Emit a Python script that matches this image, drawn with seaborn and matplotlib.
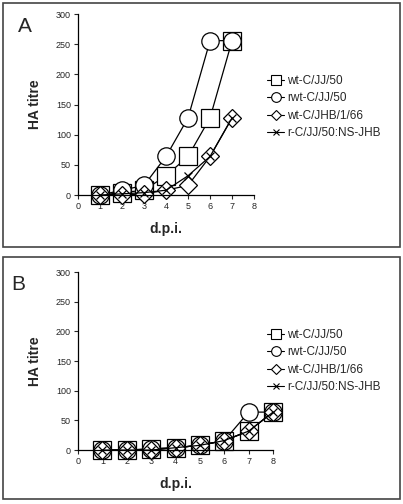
import pandas as pd
import matplotlib.pyplot as plt
import seaborn as sns
from matplotlib.lines import Line2D
from matplotlib.patches import Rectangle

sns.set_style("white")
plt.rcParams['font.family'] = ['Liberation Sans', 'DejaVu Sans']

# Data (HA titre by days post infection)
series_names = ['wt-C/JJ/50', 'rwt-C/JJ/50', 'wt-C/JHB/1/66', 'r-C/JJ/50:NS-JHB']
markers = ['s', 'o', 'D', 'x']
marker_sizes = [12.5, 12.5, 9.5, 6]
legend_sizes = [7, 7, 5.5, 5]

days_a = [1, 2, 3, 4, 5, 6, 7]
wt_jj_a = [0, 4, 8, 32, 64, 128, 256]
rwt_jj_a = [0, 8, 16, 64, 128, 256, 256]
wt_jhb_a = [0, 0, 2, 8, 16, 64, 128]
r_ns_jhb_a = [0, 2, 4, 8, 32, 64, 128]

days_b = [1, 2, 3, 4, 5, 6, 7, 8]
wt_jj_b = [0, 0, 2, 4, 8, 16, 32, 64]
rwt_jj_b = [0, 0, 2, 4, 8, 16, 64, 64]
wt_jhb_b = [0, 0, 0, 4, 8, 16, 32, 64]
r_ns_jhb_b = [0, 0, 0, 4, 8, 16, 32, 64]

x_ticks = [0, 1, 2, 3, 4, 5, 6, 7, 8]
y_ticks = [0, 50, 100, 150, 200, 250, 300]


def long_table(days, values):
    rows = []
    for name, vals in zip(series_names, values):
        for d, v in zip(days, vals):
            rows.append({'dpi': d, 'titre': v, 'strain': name})
    return pd.DataFrame(rows)


df_a = long_table(days_a, [wt_jj_a, rwt_jj_a, wt_jhb_a, r_ns_jhb_a])
df_b = long_table(days_b, [wt_jj_b, rwt_jj_b, wt_jhb_b, r_ns_jhb_b])

fig = plt.figure(figsize=(4.03, 5.04), dpi=100)

# panel frames
fig.patches.append(Rectangle((3 / 403, 1 - 247 / 504), 397 / 403, 244 / 504,
                             transform=fig.transFigure, fill=False, edgecolor='#444444', lw=1.2))
fig.patches.append(Rectangle((3 / 403, 1 - 499 / 504), 397 / 403, 242 / 504,
                             transform=fig.transFigure, fill=False, edgecolor='#444444', lw=1.2))

ax_a = fig.add_axes([0.1935, 0.613, 0.437, 0.359])
ax_b = fig.add_axes([0.1935, 0.107, 0.484, 0.353])


def draw_panel(ax, df, label, legend_y):
    for name, m, ms in zip(series_names, markers, marker_sizes):
        sub = df[df['strain'] == name]
        sns.lineplot(data=sub, x='dpi', y='titre', ax=ax, color='black', lw=0.9,
                     marker=m, markersize=ms, markerfacecolor='white',
                     markeredgecolor='black', markeredgewidth=0.9, legend=False,
                     clip_on=False)
    ax.set_xlim(0, 8)
    ax.set_ylim(0, 300)
    ax.set_xticks(x_ticks)
    ax.set_yticks(y_ticks)
    ax.tick_params(axis='both', labelsize=6.5, length=3, width=0.8, direction='out',
                   bottom=True, left=True, pad=2)
    for s in ['top', 'right']:
        ax.spines[s].set_visible(False)
    for s in ['left', 'bottom']:
        ax.spines[s].set_color('black')
        ax.spines[s].set_linewidth(0.9)
    ax.set_xlabel('d.p.i.', fontsize=10, fontweight='bold', labelpad=8)
    ax.set_ylabel('HA titre', fontsize=10, fontweight='bold', labelpad=10)
    ax.text(-0.34, 0.93, label, transform=ax.transAxes, fontsize=15, ha='left', va='center')
    handles = [Line2D([0], [0], color='black', lw=0.8, marker=m, markersize=ls,
                      markerfacecolor='white', markeredgecolor='black', markeredgewidth=0.8)
               for m, ls in zip(markers, legend_sizes)]
    fig.legend(handles, series_names, loc='center left', bbox_to_anchor=(0.65, legend_y),
               frameon=False, fontsize=8.5, handlelength=1.5, handletextpad=0.25,
               labelspacing=0.45, borderaxespad=0)


draw_panel(ax_a, df_a, 'A', 1 - 107 / 504)
draw_panel(ax_b, df_b, 'B', 1 - 361 / 504)

fig.savefig('out.png', dpi=100)
